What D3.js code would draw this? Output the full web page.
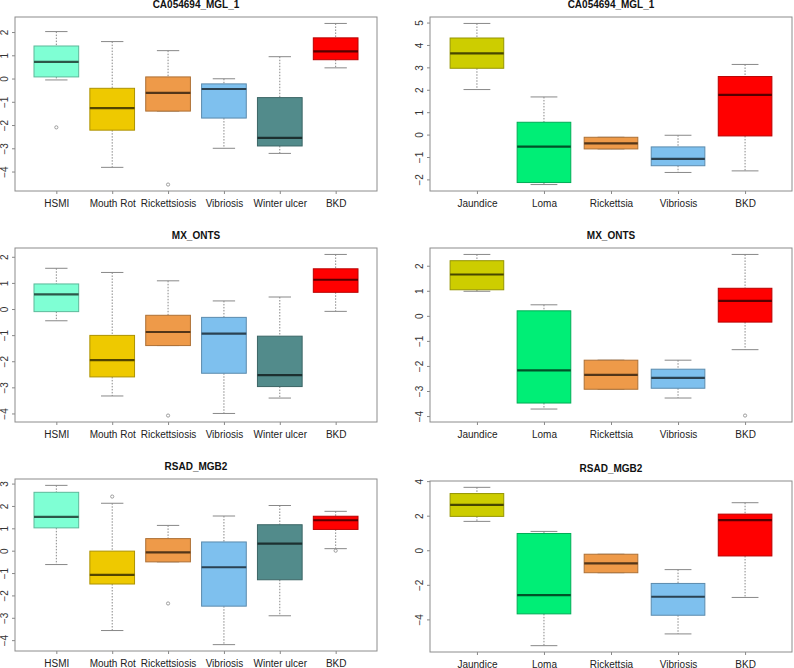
<!DOCTYPE html>
<html>
<head>
<meta charset="utf-8">
<script src="https://cdn.jsdelivr.net/npm/d3@7"></script>
<style>
  body { margin: 0; background: #fff; }
  svg text { font-family: "Liberation Sans", Arial, sans-serif; }
</style>
</head>
<body>
<div id="my_dataviz"></div>
<script>
// categories and fills
var diseasesLeft = ["HSMI", "Mouth Rot", "Rickettsiosis", "Vibriosis", "Winter ulcer", "BKD"];
var diseasesRight = ["Jaundice", "Loma", "Rickettsia", "Vibriosis", "BKD"];
var fillsLeft = ["#7FFFD4", "#EEC900", "#EE9A49", "#7EC0EE", "#528B8B", "#FF0000"];
var fillsRight = ["#CDCD00", "#00EE76", "#EE9A49", "#7EC0EE", "#FF0000"];

// five-number summaries: [lower whisker, q1, median, q3, upper whisker]
var mgl1Left = [
    [-0.06, 0.07, 0.72, 1.40, 2.02],
    [-3.82, -2.22, -1.27, -0.42, 1.59],
    [-1.40, -1.40, -0.62, 0.07, 1.20],
    [-3.00, -1.70, -0.45, -0.23, -0.01],
    [-3.22, -2.90, -2.55, -0.82, 0.94],
    [0.46, 0.81, 1.17, 1.75, 2.37]
];
var mgl1LeftOut = [[-2.10], [], [-4.56], [], [], []];

var mgl1Right = [
    [2.01, 2.96, 3.62, 4.31, 4.96],
    [-2.23, -2.14, -0.54, 0.55, 1.68],
    [-0.64, -0.64, -0.39, -0.12, -0.12],
    [-1.69, -1.39, -1.08, -0.55, -0.03],
    [-1.62, -0.06, 1.77, 2.59, 3.13]
];
var mgl1RightOut = [[], [], [], [], []];

var mxLeft = [
    [-0.45, -0.10, 0.56, 0.96, 1.56],
    [-3.33, -2.60, -1.96, -1.01, 1.40],
    [-1.40, -1.40, -0.88, -0.24, 1.08],
    [-4.00, -2.46, -0.94, -0.32, 0.31],
    [-3.41, -2.97, -2.53, -1.04, 0.46],
    [-0.09, 0.64, 1.12, 1.54, 2.09]
];
var mxLeftOut = [[], [], [-4.08], [], [], []];

var mxRight = [
    [0.98, 1.04, 1.65, 2.20, 2.45],
    [-3.72, -3.48, -2.18, 0.20, 0.44],
    [-2.93, -2.93, -2.36, -1.77, -1.77],
    [-3.28, -2.89, -2.48, -2.13, -1.77],
    [-1.35, -0.25, 0.60, 1.10, 2.45]
];
var mxRightOut = [[], [], [], [], [-3.98]];

var rsadLeft = [
    [-0.62, 1.02, 1.51, 2.61, 2.92],
    [-3.57, -1.49, -1.08, -0.02, 2.12],
    [-0.50, -0.50, -0.08, 0.54, 1.13],
    [-4.20, -2.48, -0.74, 0.39, 1.55],
    [-2.91, -1.30, 0.32, 1.16, 2.02],
    [0.09, 0.95, 1.36, 1.54, 1.76]
];
var rsadLeftOut = [[], [2.42], [-2.36], [], [], [0.00]];

var rsadRight = [
    [1.67, 1.96, 2.62, 3.28, 3.64],
    [-5.52, -3.68, -2.60, 0.97, 1.09],
    [-1.30, -1.30, -0.76, -0.23, -0.23],
    [-4.84, -3.76, -2.69, -1.92, -1.12],
    [-2.73, -0.33, 1.74, 2.09, 2.75]
];
var rsadRightOut = [[], [], [], [], []];

// y tick values
var ticksMgl1Left = [-4, -3, -2, -1, 0, 1, 2];
var ticksMgl1Right = [-2, -1, 0, 1, 2, 3, 4, 5];
var ticksMxLeft = [-4, -3, -2, -1, 0, 1, 2];
var ticksMxRight = [-4, -3, -2, -1, 0, 1, 2];
var ticksRsadLeft = [-4, -3, -2, -1, 0, 1, 2, 3];
var ticksRsadRight = [-4, -2, 0, 2, 4];

var panels = [
    {title: "CA054694_MGL_1", cats: diseasesLeft, fills: fillsLeft, stats: mgl1Left, out: mgl1LeftOut, ticks: ticksMgl1Left, x0: 15, x1: 377, y0: 17, y1: 191},
    {title: "CA054694_MGL_1", cats: diseasesRight, fills: fillsRight, stats: mgl1Right, out: mgl1RightOut, ticks: ticksMgl1Right, x0: 430, x1: 792, y0: 17, y1: 191},
    {title: "MX_ONTS", cats: diseasesLeft, fills: fillsLeft, stats: mxLeft, out: mxLeftOut, ticks: ticksMxLeft, x0: 15, x1: 377, y0: 248, y1: 422},
    {title: "MX_ONTS", cats: diseasesRight, fills: fillsRight, stats: mxRight, out: mxRightOut, ticks: ticksMxRight, x0: 430, x1: 792, y0: 248, y1: 422},
    {title: "RSAD_MGB2", cats: diseasesLeft, fills: fillsLeft, stats: rsadLeft, out: rsadLeftOut, ticks: ticksRsadLeft, x0: 15, x1: 377, y0: 479, y1: 651},
    {title: "RSAD_MGB2", cats: diseasesRight, fills: fillsRight, stats: rsadRight, out: rsadRightOut, ticks: ticksRsadRight, x0: 430, x1: 792, y0: 481, y1: 652}
];

var svg = d3.select("#my_dataviz")
    .append("svg")
    .attr("width", 794)
    .attr("height", 668);

panels.forEach(function(p) {
    var g = svg.append("g");
    var n = p.cats.length;

    // R style: 4% padding on both axes
    var xScale = d3.scaleLinear()
        .domain([0.5 - 0.04 * n, n + 0.5 + 0.04 * n])
        .range([p.x0, p.x1]);
    var step = xScale(2) - xScale(1);
    var boxW = step * 0.8;

    var allVals = [];
    p.stats.forEach(function(s, i) { allVals = allVals.concat(s, p.out[i]); });
    var lo = d3.min(allVals), hi = d3.max(allVals);
    var pad = (hi - lo) * 0.04;
    var yScale = d3.scaleLinear()
        .domain([lo - pad, hi + pad])
        .range([p.y1, p.y0]);

    // title
    g.append("text")
        .attr("x", (p.x0 + p.x1) / 2)
        .attr("y", p.y0 - 9)
        .attr("text-anchor", "middle")
        .style("font-size", "10px")
        .style("font-weight", "bold")
        .attr("fill", "#111")
        .text(p.title);

    // y axis
    var yAxis = g.append("g")
        .attr("transform", "translate(" + p.x0 + ",0)")
        .call(d3.axisLeft(yScale).tickValues(p.ticks).tickFormat(d3.format("d")).tickSize(3).tickSizeOuter(0));
    yAxis.select(".domain").remove();
    yAxis.selectAll("line").attr("stroke", "#888");
    yAxis.selectAll("text")
        .attr("x", null).attr("dy", null)
        .attr("transform", "translate(-7.5,0) rotate(-90)")
        .attr("text-anchor", "middle")
        .attr("fill", "#333")
        .style("font-size", "10px");

    // x axis
    var xAxis = g.append("g")
        .attr("transform", "translate(0," + p.y1 + ")")
        .call(d3.axisBottom(xScale)
            .tickValues(d3.range(1, n + 1))
            .tickFormat(function(d) { return p.cats[d - 1]; })
            .tickSize(3).tickSizeOuter(0));
    xAxis.select(".domain").remove();
    xAxis.selectAll("line").attr("stroke", "#888");
    xAxis.selectAll("text")
        .attr("y", 16).attr("dy", null)
        .attr("fill", "#222")
        .style("font-size", "10px");

    // frame
    g.append("rect")
        .attr("x", p.x0).attr("y", p.y0)
        .attr("width", p.x1 - p.x0).attr("height", p.y1 - p.y0)
        .attr("fill", "none")
        .attr("stroke", "#8c8c8c")
        .attr("stroke-width", 1);

    var boxes = g.selectAll(".box")
        .data(p.stats)
        .enter()
        .append("g")
        .attr("class", "box");

    // dotted whiskers
    boxes.append("line")
        .attr("x1", function(d, i) { return xScale(i + 1); })
        .attr("x2", function(d, i) { return xScale(i + 1); })
        .attr("y1", function(d) { return yScale(d[4]); })
        .attr("y2", function(d) { return yScale(d[3]); })
        .attr("stroke", "#888").attr("stroke-dasharray", "1.5,1.5");
    boxes.append("line")
        .attr("x1", function(d, i) { return xScale(i + 1); })
        .attr("x2", function(d, i) { return xScale(i + 1); })
        .attr("y1", function(d) { return yScale(d[1]); })
        .attr("y2", function(d) { return yScale(d[0]); })
        .attr("stroke", "#888").attr("stroke-dasharray", "1.5,1.5");

    // staples
    [0, 4].forEach(function(k) {
        boxes.append("line")
            .attr("x1", function(d, i) { return xScale(i + 1) - boxW / 4; })
            .attr("x2", function(d, i) { return xScale(i + 1) + boxW / 4; })
            .attr("y1", function(d) { return yScale(d[k]); })
            .attr("y2", function(d) { return yScale(d[k]); })
            .attr("stroke", "#888");
    });

    // boxes
    boxes.append("rect")
        .attr("x", function(d, i) { return xScale(i + 1) - boxW / 2; })
        .attr("y", function(d) { return yScale(d[3]); })
        .attr("width", boxW)
        .attr("height", function(d) { return yScale(d[1]) - yScale(d[3]); })
        .attr("fill", function(d, i) { return p.fills[i]; })
        .attr("stroke", function(d, i) { return d3.color(p.fills[i]).darker(0.9); })
        .attr("stroke-width", 1);

    // medians
    boxes.append("line")
        .attr("x1", function(d, i) { return xScale(i + 1) - boxW / 2; })
        .attr("x2", function(d, i) { return xScale(i + 1) + boxW / 2; })
        .attr("y1", function(d) { return yScale(d[2]); })
        .attr("y2", function(d) { return yScale(d[2]); })
        .attr("stroke", function(d, i) { return d3.color(p.fills[i]).darker(3); })
        .attr("stroke-width", 2.2);

    // outliers
    p.out.forEach(function(vals, i) {
        g.selectAll(null)
            .data(vals)
            .enter()
            .append("circle")
            .attr("cx", xScale(i + 1))
            .attr("cy", function(d) { return yScale(d); })
            .attr("r", 1.6)
            .attr("fill", "none")
            .attr("stroke", "#888")
            .attr("stroke-width", 0.8);
    });
});
</script>
</body>
</html>
